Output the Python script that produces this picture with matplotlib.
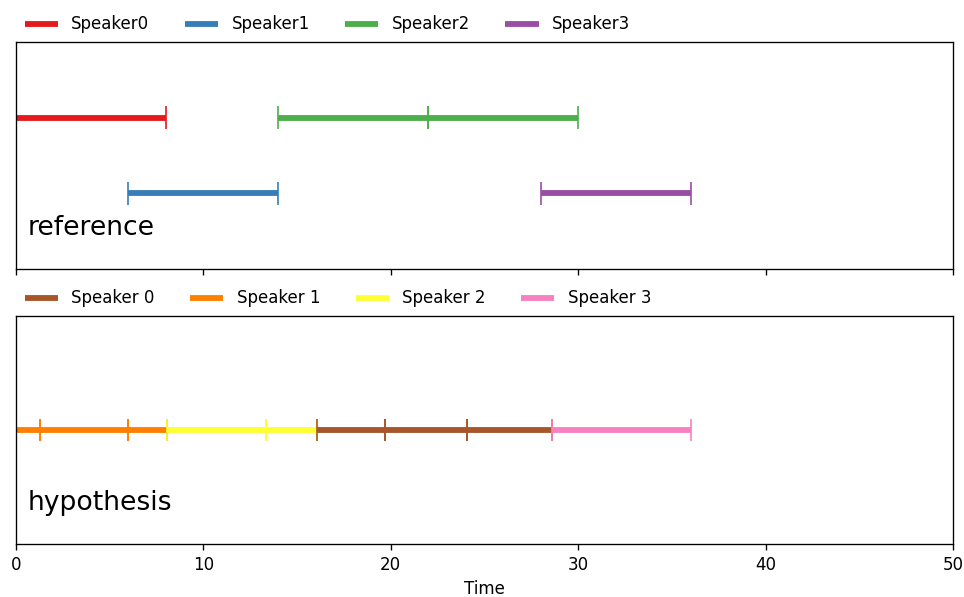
import matplotlib
matplotlib.use("Agg")
import matplotlib.pyplot as plt

# Reference annotation
ref_labels = ["Speaker0", "Speaker1", "Speaker2", "Speaker2", "Speaker3"]
ref_starts = [0.0, 6.0, 14.0, 22.0, 28.0]
ref_ends = [8.0, 14.0, 22.0, 30.0, 36.0]
ref_order = ["Speaker0", "Speaker1", "Speaker2", "Speaker3"]

# Hypothesis annotation
hyp_labels = ["Speaker 1", "Speaker 1", "Speaker 1", "Speaker 2", "Speaker 2",
              "Speaker 0", "Speaker 0", "Speaker 0", "Speaker 3"]
hyp_starts = [0.0, 1.28, 6.0, 8.04, 13.32, 16.06, 19.71, 24.08, 28.58]
hyp_ends = [1.28, 6.0, 8.04, 13.32, 16.06, 19.71, 24.08, 28.58, 36.0]
hyp_order = ["Speaker 0", "Speaker 1", "Speaker 2", "Speaker 3"]

ref_colors = {"Speaker0": "#e41a1c", "Speaker1": "#377eb8",
              "Speaker2": "#4daf4a", "Speaker3": "#984ea3"}
hyp_colors = {"Speaker 0": "#a65628", "Speaker 1": "#ff7f00",
              "Speaker 2": "#ffff33", "Speaker 3": "#f781bf"}

x_min, x_max = 0, 50


def assign_rows(starts, ends):
    rows_end = []
    rows = []
    for s, e in zip(starts, ends):
        for i, last in enumerate(rows_end):
            if last <= s + 1e-9:
                rows_end[i] = e
                rows.append(i)
                break
        else:
            rows_end.append(e)
            rows.append(len(rows_end) - 1)
    return rows, len(rows_end)


def draw(ax, labels, starts, ends, colors, order, title):
    rows, n = assign_rows(starts, ends)
    handles = {}
    for lab, s, e, r in zip(labels, starts, ends, rows):
        y = 1 - (r + 1) / (n + 1)
        c = colors[lab]
        h = ax.hlines(y, s, e, colors=c, linewidth=3.5)
        handles[lab] = h
        ax.vlines([s, e], y - 0.05, y + 0.05, colors=c, linewidth=1)
    ax.set_xlim(x_min, x_max)
    ax.set_ylim(0, 1)
    ax.set_yticks([])
    ax.text(0.012, 0.15, title, transform=ax.transAxes, fontsize=16,
            ha="left", va="baseline")
    ax.legend([handles[l] for l in order], order, loc="lower left",
              bbox_to_anchor=(0, 1), borderaxespad=0.12, columnspacing=2.12,
              ncol=5, frameon=False)


DPI = 120
W, H = 964, 597
fig = plt.figure(figsize=(W / DPI, H / DPI), dpi=DPI)
ax1 = fig.add_axes([16 / W, 1 - 269 / H, 937 / W, 227 / H])
ax2 = fig.add_axes([16 / W, 1 - 544 / H, 937 / W, 228 / H], sharex=ax1)

draw(ax1, ref_labels, ref_starts, ref_ends, ref_colors, ref_order, "reference")
draw(ax2, hyp_labels, hyp_starts, hyp_ends, hyp_colors, hyp_order, "hypothesis")

ax1.tick_params(labelbottom=False)
ax2.set_xlabel("Time")

fig.savefig("out.png", dpi=DPI)
